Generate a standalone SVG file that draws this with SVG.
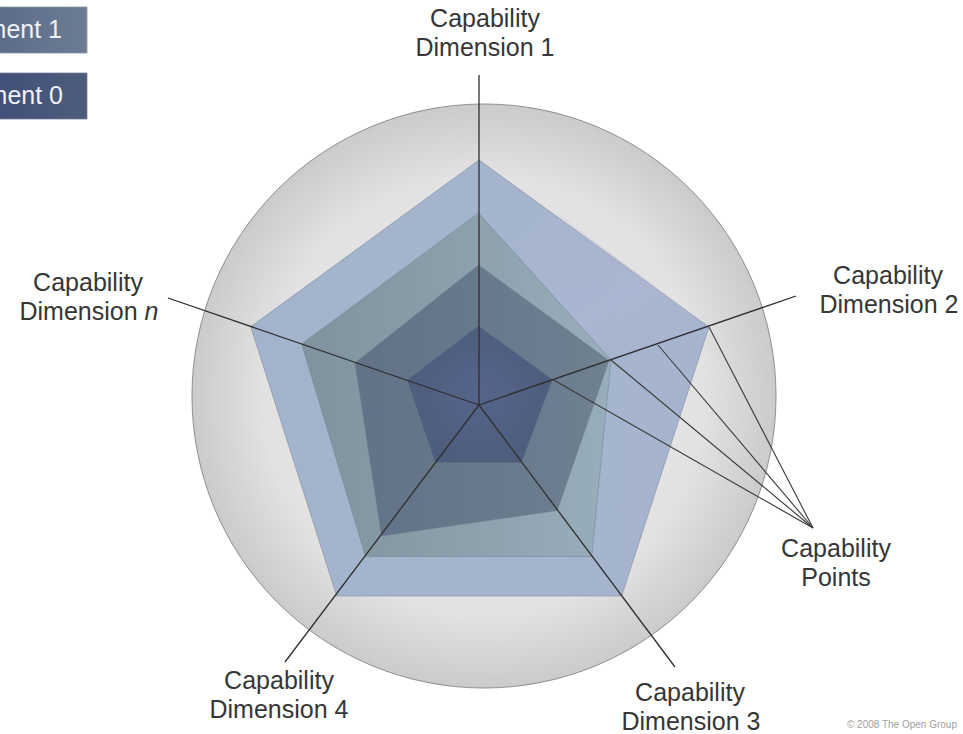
<svg xmlns="http://www.w3.org/2000/svg" width="963" height="734" viewBox="0 0 963 734">
<style>
.lbl{font-family:"Liberation Sans",Arial,sans-serif;font-size:25px;fill:#363636;text-anchor:middle}
.leg{font-family:"Liberation Sans",Arial,sans-serif;font-size:25px;fill:#eef1f6;text-anchor:end}
.ax{stroke:#2e2e2e;stroke-width:1.3;fill:none}
.ptr{stroke:#3a3a3a;stroke-width:1.1;fill:none}
.poly{stroke:#6f7d92;stroke-width:0.8;stroke-opacity:0.6}
.copy{font-family:"Liberation Sans",Arial,sans-serif;font-size:10px;fill:#a0a0a0}
</style>
<defs>
<radialGradient id="gCircle" cx="0.5" cy="0.5" r="0.5">
<stop offset="0" stop-color="#e9e9e9"/>
<stop offset="0.75" stop-color="#e2e2e2"/>
<stop offset="1" stop-color="#cbcbcb"/>
</radialGradient>
<linearGradient id="gA" x1="0" y1="0" x2="1" y2="0">
<stop offset="0" stop-color="#a2b4cc"/>
<stop offset="1" stop-color="#a6b5cd"/>
</linearGradient>
<linearGradient id="gLav" x1="0" y1="0" x2="1" y2="1">
<stop offset="0" stop-color="#b3b6d8" stop-opacity="0"/>
<stop offset="0.6" stop-color="#b3b6d8" stop-opacity="0.9"/>
<stop offset="1" stop-color="#b3b6d8" stop-opacity="0"/>
</linearGradient>
<linearGradient id="gB" x1="0" y1="0" x2="1" y2="0">
<stop offset="0" stop-color="#7f929d"/>
<stop offset="1" stop-color="#98aeba"/>
</linearGradient>
<linearGradient id="gC" x1="0" y1="0" x2="1" y2="0">
<stop offset="0" stop-color="#627287"/>
<stop offset="1" stop-color="#6f8091"/>
</linearGradient>
<radialGradient id="gD" cx="0.5" cy="0.5" r="0.6">
<stop offset="0" stop-color="#55648a"/>
<stop offset="1" stop-color="#4d5b7b"/>
</radialGradient>
<linearGradient id="gLeg1" x1="0" y1="0" x2="1" y2="0">
<stop offset="0" stop-color="#5c6c88"/>
<stop offset="1" stop-color="#6d7c94"/>
</linearGradient>
<linearGradient id="gLeg0" x1="0" y1="0" x2="1" y2="0">
<stop offset="0" stop-color="#42507a"/>
<stop offset="1" stop-color="#4e5c7c"/>
</linearGradient>
</defs>
<rect width="963" height="734" fill="#ffffff"/>

<g id="legend">
<g id="legend-1">
<rect x="-2" y="7" width="89" height="46" fill="url(#gLeg1)" stroke="#8994a8" stroke-width="0.8"/>
<text class="leg" x="62" y="38">ment 1</text>
</g>
<g id="legend-0">
<rect x="-2" y="73" width="89" height="46" fill="url(#gLeg0)" stroke="#76819a" stroke-width="0.8"/>
<text class="leg" x="63" y="104">ment 0</text>
</g>
</g>

<g id="background-circle">
<circle cx="484" cy="396" r="292" fill="url(#gCircle)" stroke="#8f8f8f" stroke-width="1"/>
</g>

<g id="polygons">
<g id="level-outer">
<polygon class="poly" points="479,160 709,327 621.7,596 336.7,596 250.7,326.7" fill="url(#gA)"/>
<polygon points="479,213 611,360 709,327 560,215" fill="url(#gLav)" opacity="0.45"/>
</g>
<g id="level-2">
<polygon class="poly" points="478.5,213 611,360 591.7,556.5 365.5,556.5 301.7,344" fill="url(#gB)"/>
</g>
<g id="level-3">
<polygon class="poly" points="478.5,265 609,360.5 557.3,510.5 381.5,536 355,362.7" fill="url(#gC)"/>
</g>
<g id="level-inner">
<polygon class="poly" points="478.5,325.5 552.7,379.5 521.7,462.7 435,462.7 406.7,380" fill="url(#gD)"/>
</g>
</g>

<g id="connectors">
<line class="ax" x1="479" y1="405" x2="479" y2="75"/>
<line class="ax" x1="479" y1="405" x2="796" y2="296"/>
<line class="ax" x1="479" y1="405" x2="675" y2="667"/>
<line class="ax" x1="479" y1="405" x2="285" y2="662"/>
<line class="ax" x1="479" y1="405" x2="168" y2="298"/>
<line class="ptr" x1="813" y1="528" x2="709" y2="327"/>
<line class="ptr" x1="813" y1="528" x2="658" y2="345"/>
<line class="ptr" x1="813" y1="528" x2="611" y2="360"/>
<line class="ptr" x1="813" y1="528" x2="552.7" y2="379.5"/>
</g>

<g id="label-dim1">
<text class="lbl" x="485" y="27">Capability</text>
<text class="lbl" x="485" y="56">Dimension 1</text>
</g>
<g id="label-dim2">
<text class="lbl" x="888" y="284">Capability</text>
<text class="lbl" x="889" y="313">Dimension 2</text>
</g>
<g id="label-dim3">
<text class="lbl" x="690" y="701">Capability</text>
<text class="lbl" x="691" y="730">Dimension 3</text>
</g>
<g id="label-dim4">
<text class="lbl" x="279" y="689">Capability</text>
<text class="lbl" x="279" y="718">Dimension 4</text>
</g>
<g id="label-dimn">
<text class="lbl" x="88" y="291">Capability</text>
<text class="lbl" x="89" y="320">Dimension <tspan font-style="italic">n</tspan></text>
</g>
<g id="label-points">
<text class="lbl" x="836" y="557">Capability</text>
<text class="lbl" x="836" y="586">Points</text>
</g>
<g id="copyright">
<text class="copy" x="957" y="728" text-anchor="end">© 2008 The Open Group</text>
</g>
</svg>
